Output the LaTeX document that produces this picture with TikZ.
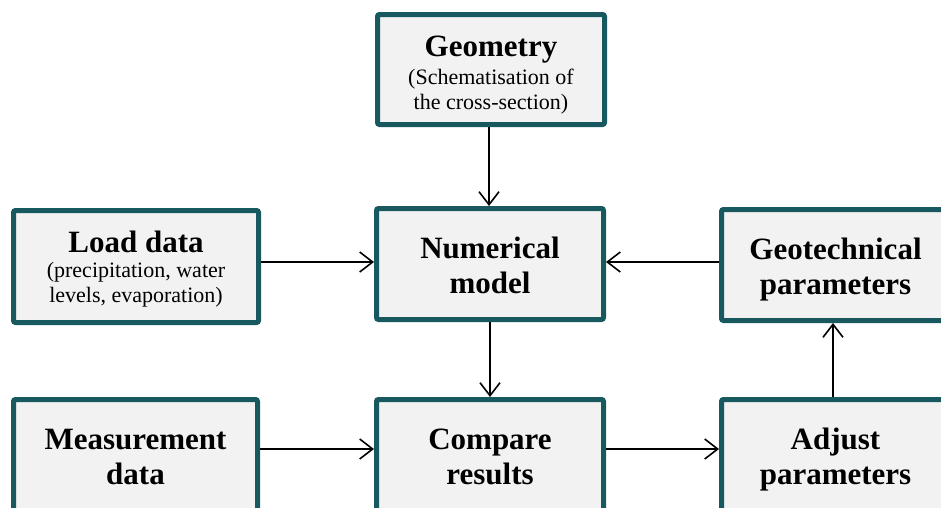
\documentclass[tikz,border=0pt]{standalone}
\usepackage{fontspec}
\setmainfont{Liberation Serif}
\usetikzlibrary{arrows.meta}
\definecolor{boxline}{RGB}{24,89,96}
\definecolor{boxfill}{RGB}{242,242,242}
\newcommand{\boxtitle}[1]{{\bfseries\fontsize{31}{35}\selectfont #1}}
\newcommand{\topstrut}[1]{\rule{0pt}{#1}}
\newcommand{\botstrut}{\rule[-8pt]{0pt}{0pt}}

\begin{document}
\begin{tikzpicture}[x=1pt, y=-1pt,
  box/.style={draw=boxline, fill=boxfill, line width=5pt, rounded corners=2pt,
    align=center, inner sep=0pt, font=\bfseries\fontsize{31}{35}\selectfont},
  subbox/.style={box, font=\fontsize{22}{25}\selectfont},
  arr/.style={-{Straight Barb[length=13pt,width=20pt]}, line width=1.6pt}]
  \useasboundingbox (0,0) rectangle (941,507);
  \clip (0,0) rectangle (941,507);

  \node[subbox, minimum width=227pt, minimum height=110pt] (geom) at (491,69.5)
    {\boxtitle{\topstrut{35.4pt}Geometry}\\[3pt] (Schematisation of\\ the cross-section)\botstrut};
  \node[subbox, minimum width=245pt, minimum height=112pt] (load) at (136,266.5)
    {\boxtitle{\topstrut{29.6pt}Load data}\\ (precipitation, water\\ levels, evaporation)\botstrut};
  \node[box, minimum width=227pt, minimum height=111pt] (num) at (490,264)
    {\topstrut{31pt}Numerical\\ model\botstrut};
  \node[box, minimum width=228pt, minimum height=111pt] (geo) at (835.5,265)
    {\topstrut{31pt}Geotechnical\\ parameters\botstrut};
  \node[box, minimum width=244pt, minimum height=111pt] (meas) at (135.5,455)
    {\topstrut{31pt}Measurement\\ data\botstrut};
  \node[box, minimum width=227pt, minimum height=111pt] (comp) at (490,455)
    {\topstrut{31pt}Compare\\ results\botstrut};
  \node[box, minimum width=228pt, minimum height=111pt] (adj) at (835.5,455)
    {\topstrut{31pt}Adjust\\ parameters\botstrut};

  \coordinate (r1w) at ([yshift=2pt]num.west);
  \coordinate (r1e) at ([yshift=2pt]num.east);
  \coordinate (r2w) at ([yshift=6pt]comp.west);
  \coordinate (r2e) at ([yshift=6pt]comp.east);

  \draw[arr] ([xshift=-2pt]geom.south) -- ([xshift=-2pt]geom.south |- num.north);
  \draw[arr] (load.east |- r1w) -- (r1w);
  \draw[arr] (geo.west |- r1e) -- (r1e);
  \draw[arr] (num.south) -- (comp.north);
  \draw[arr] (meas.east |- r2w) -- (r2w);
  \draw[arr] (r2e) -- (adj.west |- r2e);
  \draw[arr] ([xshift=-2.5pt]adj.north) -- ([xshift=-2.5pt]geo.south);
\end{tikzpicture}
\end{document}
